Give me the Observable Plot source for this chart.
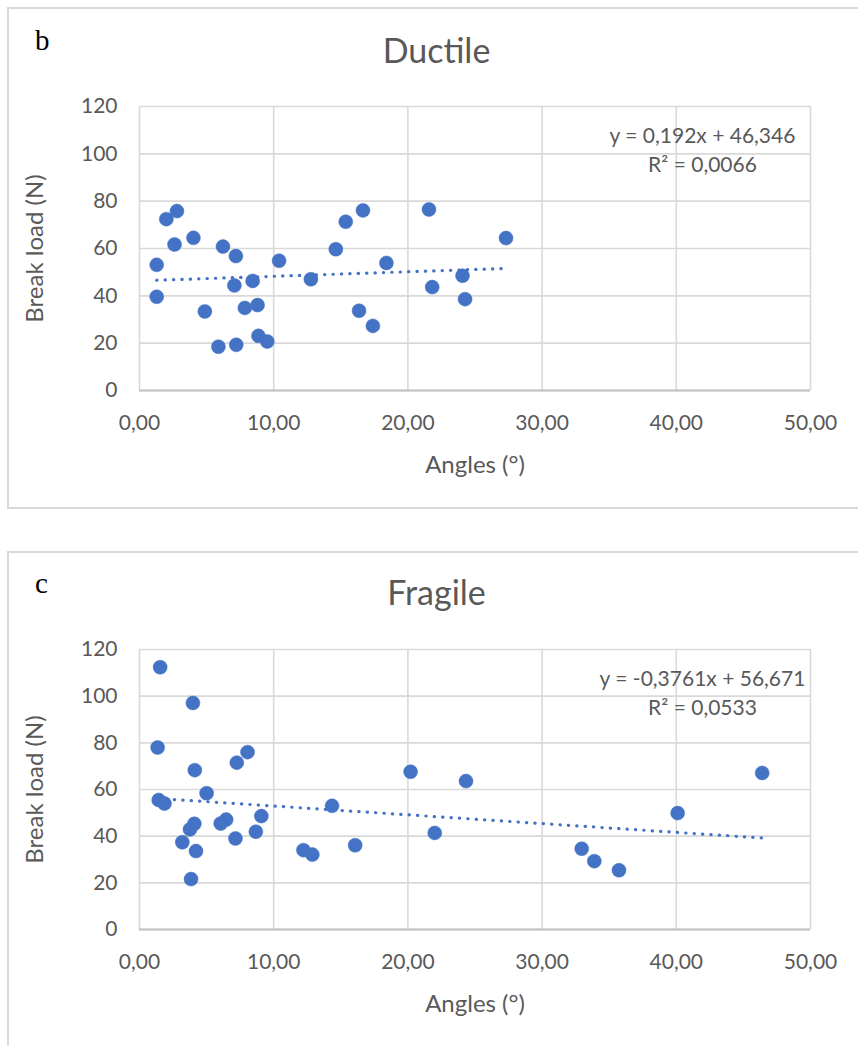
<!DOCTYPE html>
<html><head><meta charset="utf-8">
<script src="https://cdn.jsdelivr.net/npm/d3@7"></script>
<script src="https://cdn.jsdelivr.net/npm/@observablehq/plot@0.6"></script>
<style>
html,body{margin:0;padding:0;background:#fff}
body{width:858px;height:1046px;position:relative;overflow:hidden;font-family:Lato,sans-serif}
.panel{position:absolute;left:7px;width:900px;border:2px solid #d9d9d9;box-sizing:border-box}
.letter{position:absolute;left:35px;font-family:"Liberation Serif",serif;font-size:29px;line-height:29px;color:#000}
.title{position:absolute;left:0;width:873px;text-align:center;font-size:34px;line-height:34px;color:#595959}
.chart{position:absolute;left:0}
</style></head>
<body>
<div class="panel" style="top:7px;height:502px"></div>
<div class="panel" style="top:551px;height:600px"></div>
<div class="letter" style="top:26px">b</div>
<div class="title" style="top:33px">Ductile</div>
<div class="letter" style="top:569px">c</div>
<div class="title" style="top:575px">Fragile</div>
<div id="c1" class="chart" style="top:80px"></div>
<div id="c2" class="chart" style="top:623px"></div>
<script>
// Ductile
const ductileAngle = [1.28,1.28,2.0,2.79,2.61,4.02,4.87,6.22,5.88,7.18,7.07,7.21,7.85,8.43,8.80,8.86,9.52,10.4,12.77,14.63,15.37,16.65,16.36,17.39,18.4,21.57,21.81,24.07,24.26,27.31];
const ductileLoad  = [53.1,39.6,72.4,75.8,61.7,64.5,33.4,60.8,18.5,56.8,44.4,19.3,34.9,46.3,36.1,23.1,20.7,54.8,47.0,59.7,71.3,76.1,33.7,27.3,53.9,76.5,43.7,48.5,38.6,64.4];
const ductileFit = {slope: 0.192, intercept: 46.346, r2: "0,0066", eq: "y = 0,192x + 46,346"};
// Fragile
const fragileAngle = [1.54,3.98,1.35,4.12,7.25,8.05,5.0,1.43,1.86,14.35,20.2,24.33,46.4,40.1,32.95,33.89,35.73,22.0,16.07,12.22,12.88,9.08,8.67,7.15,6.46,6.05,4.09,3.76,3.19,4.21,3.84];
const fragileLoad  = [112.4,97.1,78.0,68.3,71.5,76.0,58.4,55.5,54.0,53.0,67.6,63.6,67.1,49.9,34.6,29.3,25.4,41.4,36.1,34.0,32.1,48.6,41.9,39.0,47.1,45.4,45.3,42.9,37.4,33.6,21.6];
const fragileFit = {slope: -0.3761, intercept: 56.671, r2: "0,0533", eq: "y = -0,3761x + 56,671"};

const xTicks = [0,10,20,30,40,50];
const yTicks = [0,20,40,60,80,100,120];
const xLabel = "Angles (°)";
const yLabel = "Break load (N)";

const fmtX = d => d.toFixed(2).replace(".", ",");

function chart(angles, loads, fit, plotH) {
  const data = angles.map((a, i) => ({x: a, y: loads[i]}));
  const [x0, x1] = d3.extent(angles);
  const trend = [x0, x1].map(x => ({x, y: fit.intercept + fit.slope * x}));
  return Plot.plot({
    width: 858,
    height: 26 + plotH + 100,
    marginLeft: 139, marginRight: 48, marginTop: 26, marginBottom: 100,
    style: {fontFamily: "Lato, sans-serif", fontSize: "21px", color: "#595959", background: "transparent", overflow: "visible"},
    x: {domain: [0, 50], ticks: xTicks, tickFormat: fmtX, label: null},
    y: {domain: [0, 120], ticks: yTicks, label: null},
    marks: [
      Plot.gridX(xTicks, {stroke: "#d9d9d9", strokeOpacity: 1, strokeWidth: 1.6}),
      Plot.gridY(yTicks, {stroke: "#d9d9d9", strokeOpacity: 1, strokeWidth: 1.6}),
      Plot.ruleY([0], {stroke: "#bfbfbf", strokeWidth: 1.8}),
      Plot.axisX(xTicks, {tickSize: 0, tickPadding: 25, tickFormat: fmtX, label: null, fill: "#595959"}),
      Plot.axisY(yTicks, {tickSize: 0, tickPadding: 22, label: null, fill: "#595959"}),
      Plot.line(trend, {x: "x", y: "y", stroke: "#4472C4", strokeWidth: 3.2, strokeDasharray: "0.3,8.1", strokeLinecap: "round"}),
      Plot.dot(data, {x: "x", y: "y", r: 7, fill: "#4472C4", stroke: "#4472C4", strokeWidth: 0.5}),
      Plot.text([fit.eq], {frameAnchor: "top-right", textAnchor: "middle", dx: -108, dy: 22, fontSize: 21, fill: "#595959"}),
      Plot.text(["R² = " + fit.r2], {frameAnchor: "top-right", textAnchor: "middle", dx: -108, dy: 51, fontSize: 21, fill: "#595959"}),
      Plot.text([xLabel], {frameAnchor: "bottom", textAnchor: "middle", lineAnchor: "middle", dy: 75, fontSize: 24, fill: "#595959"}),
      Plot.text([yLabel], {frameAnchor: "left", textAnchor: "middle", lineAnchor: "middle", dx: -104, rotate: -90, fontSize: 24, fill: "#595959"})
    ]
  });
}
document.getElementById("c1").append(chart(ductileAngle, ductileLoad, ductileFit, 284));
document.getElementById("c2").append(chart(fragileAngle, fragileLoad, fragileFit, 280));
</script>
</body></html>
